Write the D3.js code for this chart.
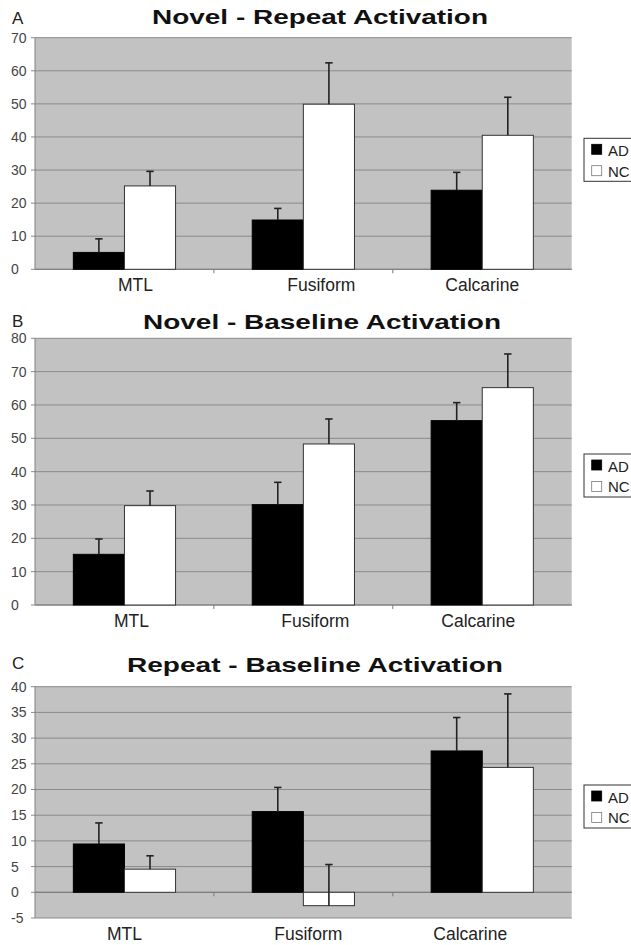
<!DOCTYPE html>
<html><head><meta charset="utf-8">
<script src="https://cdn.jsdelivr.net/npm/d3@7"></script>
<style>
html,body{margin:0;padding:0;background:#fff;}
svg{display:block;font-family:"Liberation Sans",Arial,sans-serif;}
</style></head>
<body>
<svg id="chart" width="631" height="945"></svg>
<script>
// ---- data ----
const categories = ["MTL", "Fusiform", "Calcarine"];
const seriesNames = ["AD", "NC"];
const panelLetters = ["A", "B", "C"];
const panelTitles = ["Novel - Repeat Activation", "Novel - Baseline Activation", "Repeat - Baseline Activation"];

const novelRepeatAD = [5.1, 14.9, 23.9];
const novelRepeatNC = [25.2, 49.9, 40.5];
const novelRepeatADErr = [4.1, 3.5, 5.4];
const novelRepeatNCErr = [4.4, 12.5, 11.5];

const novelBaselineAD = [15.2, 30.1, 55.3];
const novelBaselineNC = [29.8, 48.3, 65.2];
const novelBaselineADErr = [4.6, 6.7, 5.4];
const novelBaselineNCErr = [4.4, 7.5, 10.1];

const repeatBaselineAD = [9.4, 15.7, 27.5];
const repeatBaselineNC = [4.5, -2.6, 24.3];
const repeatBaselineADErr = [4.1, 4.7, 6.5];
const repeatBaselineNCErr = [2.6, 8.0, 14.3];

const ticksA = [0, 10, 20, 30, 40, 50, 60, 70];
const ticksB = [0, 10, 20, 30, 40, 50, 60, 70, 80];
const ticksC = [-5, 0, 5, 10, 15, 20, 25, 30, 35, 40];

// ---- layout (styling only) ----
const layout = [
  {top: 37.7, bottom: 269.3, titleY: 23.5, titleW: 336, titleCx: 320, letterY: 24, labelY: 291, labelDx: [11, 18, 0], legendTop: 138.3},
  {top: 338.3, bottom: 605, titleY: 329, titleW: 358, titleCx: 322, letterY: 327, labelY: 627, labelDx: [7, 12, -4], legendTop: 454},
  {top: 686.7, bottom: 918, titleY: 671.5, titleW: 376, titleCx: 315, letterY: 668.5, labelY: 940, labelDx: [0, 5, -12], legendTop: 785}
];
const panels = [
  {values: [novelRepeatAD, novelRepeatNC], errs: [novelRepeatADErr, novelRepeatNCErr], ticks: ticksA},
  {values: [novelBaselineAD, novelBaselineNC], errs: [novelBaselineADErr, novelBaselineNCErr], ticks: ticksB},
  {values: [repeatBaselineAD, repeatBaselineNC], errs: [repeatBaselineADErr, repeatBaselineNCErr], ticks: ticksC}
];

const plotLeft = 35, plotRight = 571.7;
const colors = {AD: "#000000", NC: "#ffffff"};
const svg = d3.select("#chart");

panels.forEach((p, i) => {
  const L = layout[i];
  const g = svg.append("g");
  const ticks = p.ticks;
  const y = d3.scaleLinear().domain([d3.min(ticks), d3.max(ticks)]).range([L.bottom, L.top]);
  const x0 = d3.scaleBand().domain(categories).range([plotLeft, plotRight]).paddingInner(0.4286).paddingOuter(0.2143);
  const x1 = d3.scaleBand().domain(seriesNames).range([0, x0.bandwidth()]).padding(0);

  // background
  g.append("rect").attr("x", plotLeft).attr("y", L.top)
    .attr("width", plotRight - plotLeft).attr("height", L.bottom - L.top)
    .attr("fill", "#c2c2c2");

  // gridlines
  g.selectAll("line.grid").data(ticks).join("line")
    .attr("x1", plotLeft - 4).attr("x2", plotRight)
    .attr("y1", d => y(d)).attr("y2", d => y(d))
    .attr("stroke", "#8a8a8a").attr("stroke-width", 1);

  // left axis line
  g.append("line").attr("x1", plotLeft).attr("x2", plotLeft)
    .attr("y1", L.top).attr("y2", L.bottom).attr("stroke", "#808080").attr("stroke-width", 1);

  // x axis at 0
  const y0 = y(0);
  g.append("line").attr("x1", plotLeft).attr("x2", plotRight)
    .attr("y1", y0).attr("y2", y0).attr("stroke", "#7a7a7a").attr("stroke-width", 1);
  const boundaries = categories.slice(1).map(c => x0(c) - x0.step() * x0.paddingInner() / 2);
  g.selectAll("line.xt").data(boundaries).join("line")
    .attr("x1", d => d).attr("x2", d => d).attr("y1", y0).attr("y2", y0 + 4)
    .attr("stroke", "#7a7a7a");

  // y tick labels
  g.selectAll("text.yt").data(ticks).join("text")
    .attr("x", 11).attr("y", d => y(d)).attr("dy", "0.35em")
    .attr("font-size", 14).attr("fill", "#444")
    .text(d => d);

  // bars
  categories.forEach((c, ci) => {
    seriesNames.forEach((s, si) => {
      const v = p.values[si][ci];
      const e = p.errs[si][ci];
      const bx = x0(c) + x1(s);
      const bw = x1.bandwidth();
      g.append("rect")
        .attr("x", bx).attr("width", bw)
        .attr("y", Math.min(y(v), y0)).attr("height", Math.abs(y(v) - y0))
        .attr("fill", colors[s]).attr("stroke", s === "AD" ? "#000" : "#333").attr("stroke-width", 1);
      const cx = bx + bw / 2;
      g.append("line").attr("x1", cx).attr("x2", cx)
        .attr("y1", y(v)).attr("y2", y(v + e))
        .attr("stroke", "#222").attr("stroke-width", 1.6);
      g.append("line").attr("x1", cx - 3.7).attr("x2", cx + 3.7)
        .attr("y1", y(v + e)).attr("y2", y(v + e))
        .attr("stroke", "#222").attr("stroke-width", 1.6);
    });
  });

  // category labels
  g.selectAll("text.cat").data(categories).join("text")
    .attr("x", (d, k) => x0(d) + x0.bandwidth() / 2 + L.labelDx[k])
    .attr("y", L.labelY).attr("text-anchor", "middle")
    .attr("font-size", 17.5).attr("fill", "#222")
    .text(d => d);

  // title
  g.append("text").attr("x", L.titleCx).attr("y", L.titleY)
    .attr("text-anchor", "middle").attr("font-size", 21).attr("font-weight", "bold")
    .attr("fill", "#111")
    .attr("textLength", L.titleW).attr("lengthAdjust", "spacingAndGlyphs")
    .text(panelTitles[i]);

  // panel letter
  g.append("text").attr("x", 12).attr("y", L.letterY)
    .attr("font-size", 17).attr("fill", "#222").text(panelLetters[i]);

  // legend
  const lg = g.append("g").attr("transform", `translate(584,${L.legendTop})`);
  lg.append("rect").attr("x", 0).attr("y", 0).attr("width", 52).attr("height", 43)
    .attr("fill", "#fff").attr("stroke", "#333").attr("stroke-width", 1);
  seriesNames.forEach((s, si) => {
    lg.append("rect").attr("x", 7.7).attr("y", 6 + si * 21.4).attr("width", 10).attr("height", 10)
      .attr("fill", colors[s]).attr("stroke", s === "AD" ? "#000" : "#777").attr("stroke-width", 0.8);
    lg.append("text").attr("x", 24).attr("y", 17.7 + si * 20.7)
      .attr("font-size", 15).attr("fill", "#222").text(s);
  });
});
</script>
</body></html>
